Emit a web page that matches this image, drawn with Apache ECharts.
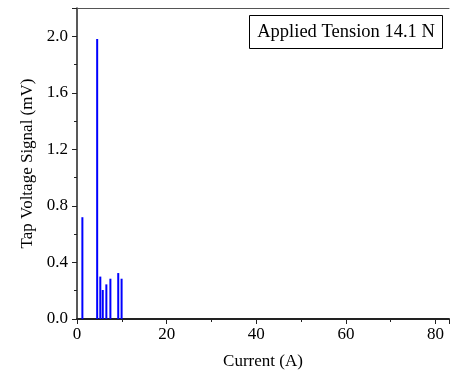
<!DOCTYPE html>
<html>
<head>
<meta charset="utf-8">
<script src="https://cdn.jsdelivr.net/npm/echarts@6/dist/echarts.min.js"></script>
<style>
  html, body { margin: 0; padding: 0; background: #fff; }
  #chart { width: 452px; height: 378px; }
</style>
</head>
<body>
<div id="chart"></div>
<script>
// Tap voltage spikes
const currents = [1.2, 4.5, 5.2, 5.75, 6.55, 7.45, 9.2, 9.95];
const voltages = [0.72, 1.98, 0.30, 0.205, 0.245, 0.285, 0.325, 0.285];
const xTicks = [0, 20, 40, 60, 80];
const yTicks = [0.0, 0.4, 0.8, 1.2, 1.6, 2.0];
const annotation = 'Applied Tension 14.1 N';

const serif = 'Liberation Serif, Times New Roman, serif';
const chart = echarts.init(document.getElementById('chart'));

chart.setOption({
  animation: false,
  backgroundColor: '#fff',
  grid: { left: 77, top: 8, right: 0, bottom: 59 },
  graphic: [
    {
      type: 'rect',
      shape: { x: 249.5, y: 15.5, width: 193, height: 33 },
      style: { fill: '#fff', stroke: '#000', lineWidth: 1 },
      z: 10
    },
    {
      type: 'text',
      x: 346, y: 32,
      style: {
        text: annotation,
        font: '18.5px ' + serif,
        fill: '#000',
        align: 'center',
        verticalAlign: 'middle'
      },
      z: 11
    }
  ],
  xAxis: [{
    type: 'value',
    min: 0, max: 83, interval: 20,
    name: 'Current (A)',
    nameLocation: 'middle',
    nameGap: 34,
    nameTextStyle: { fontFamily: serif, fontSize: 17, color: '#000' },
    axisLine: { lineStyle: { color: '#222', width: 2 } },
    axisTick: { length: 5, lineStyle: { color: '#222' } },
    minorTick: { show: true, splitNumber: 2, length: 3, lineStyle: { color: '#222' } },
    splitLine: { show: false },
    axisLabel: {
      fontFamily: serif, fontSize: 17, color: '#000', margin: 7,
      formatter: v => xTicks.includes(v) ? String(v) : ''
    }
  }, {
    // top frame line only
    type: 'value',
    position: 'top',
    min: 0, max: 83,
    axisLine: { show: true, onZero: false, lineStyle: { color: '#555', width: 1 } },
    axisTick: { show: false },
    axisLabel: { show: false },
    splitLine: { show: false }
  }],
  yAxis: {
    type: 'value',
    min: 0, max: 2.2, interval: 0.4,
    name: 'Tap Voltage Signal (mV)',
    nameLocation: 'middle',
    nameGap: 41,
    nameTextStyle: { fontFamily: serif, fontSize: 17, color: '#000' },
    axisLine: { show: true, lineStyle: { color: '#222', width: 1.5 } },
    axisTick: { show: true, length: 5, lineStyle: { color: '#222' } },
    minorTick: { show: true, splitNumber: 2, length: 3, lineStyle: { color: '#222' } },
    splitLine: { show: false },
    axisLabel: {
      fontFamily: serif, fontSize: 17, color: '#000', margin: 9,
      formatter: v => {
        const hit = yTicks.find(t => Math.abs(t - v) < 1e-6);
        return hit === undefined ? '' : hit.toFixed(1);
      }
    }
  },
  series: [{
    type: 'bar',
    data: currents.map((c, i) => [c, voltages[i]]),
    barWidth: 2,
    itemStyle: { color: '#0000ff' }
  }]
});
</script>
</body>
</html>
